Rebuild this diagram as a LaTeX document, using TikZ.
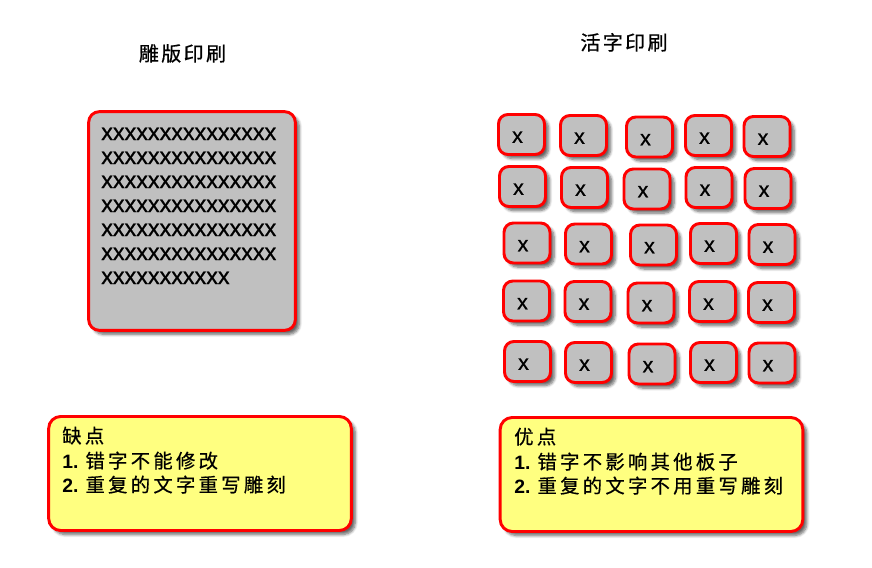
\documentclass[tikz,border=0pt]{standalone}
\usepackage{fontspec}
\setmainfont{Liberation Sans}
\newfontfamily\cjk[LetterSpace=12,FakeBold=0.6]{Noto Sans CJK SC}
\newfontfamily\notecjk[LetterSpace=17,FakeBold=0.6]{Noto Sans CJK SC}
\newfontfamily\typefont[FakeBold=0.8]{Liberation Sans}
\usetikzlibrary{shadows.blur}
\definecolor{typegray}{RGB}{192,192,192}
\definecolor{noteyellow}{RGB}{255,255,128}

\begin{document}
\begin{tikzpicture}[x=0.75pt,y=-0.75pt,
	plate/.style={draw=red,line width=2.2pt,rounded corners=8pt,
		blur shadow={shadow xshift=3pt,shadow yshift=-3pt,shadow blur steps=6,shadow opacity=60}},
	slab/.style={plate,fill=typegray,minimum width=155pt,minimum height=164pt},
	tile/.style={plate,fill=typegray,minimum width=34.5pt,minimum height=30pt,rounded corners=7pt},
	note/.style={plate,fill=noteyellow,minimum width=227pt,minimum height=85.5pt,rounded corners=9pt},
	typerow/.style={font=\typefont\fontsize{17.5}{18}\selectfont,inner sep=0pt,anchor=base west},
	typechar/.style={font=\typefont\fontsize{16}{18}\selectfont,inner sep=0pt},
	headline/.style={font=\cjk\fontsize{15}{16}\selectfont,inner sep=0pt,anchor=base},
	noteline/.style={font=\fontsize{14.5}{16}\selectfont,inner sep=0pt,anchor=base west}]
	\useasboundingbox (0,0) rectangle (872,568);
	% titles
	\node[headline] (woodtitle) at (182.5,61) {雕版印刷};
	\node[headline] (movtitle) at (624,50) {活字印刷};
	% the whole block
	\node[slab] (woodblock) at (192,221) {};
	\foreach \i in {1,...,6}
		\node[typerow] (row\i) at (101,116+24*\i) {xxxxxxxxxxxxxxx};
	\node[typerow] (row7) at (101,284) {xxxxxxxxxxx};
	% movable types
	\foreach \cx/\cy [count=\n] in {521.5/134.5,583.5/135.5,649.5/137,708.5/135.5,767/136.5,
			522.5/186.5,584.5/187.5,647/189,709/187.5,768/188.5,
			527/243,588.5/244,653.5/245,713.5/243.5,772/244.5,
			526.5/301,588/301.5,651/303,712.5/301.5,771.5/302.5,
			527.5/361.5,588.5/362.5,652/364,713.5/362.5,772/363}{
		\node[tile] (type\n) at (\cx,\cy) {};
		\node[typechar] (char\n) at ([xshift=-3pt,yshift=-2pt]type\n.center) {x};
	}
	% notes
	\node[note] (cons) at (200,473.5) {};
	\node[noteline] (cons0) at (62,443) {\notecjk 缺点};
	\node[noteline] (cons1) at (62,468) {\textbf{1.} \notecjk 错字不能修改};
	\node[noteline] (cons2) at (62,492) {\textbf{2.} \notecjk 重复的文字重写雕刻};
	\node[note] (pros) at (651.5,474.5) {};
	\node[noteline] (pros0) at (514,444) {\notecjk 优点};
	\node[noteline] (pros1) at (514,469) {\textbf{1.} \notecjk 错字不影响其他板子};
	\node[noteline] (pros2) at (514,493) {\textbf{2.} \notecjk 重复的文字不用重写雕刻};
\end{tikzpicture}
\end{document}
